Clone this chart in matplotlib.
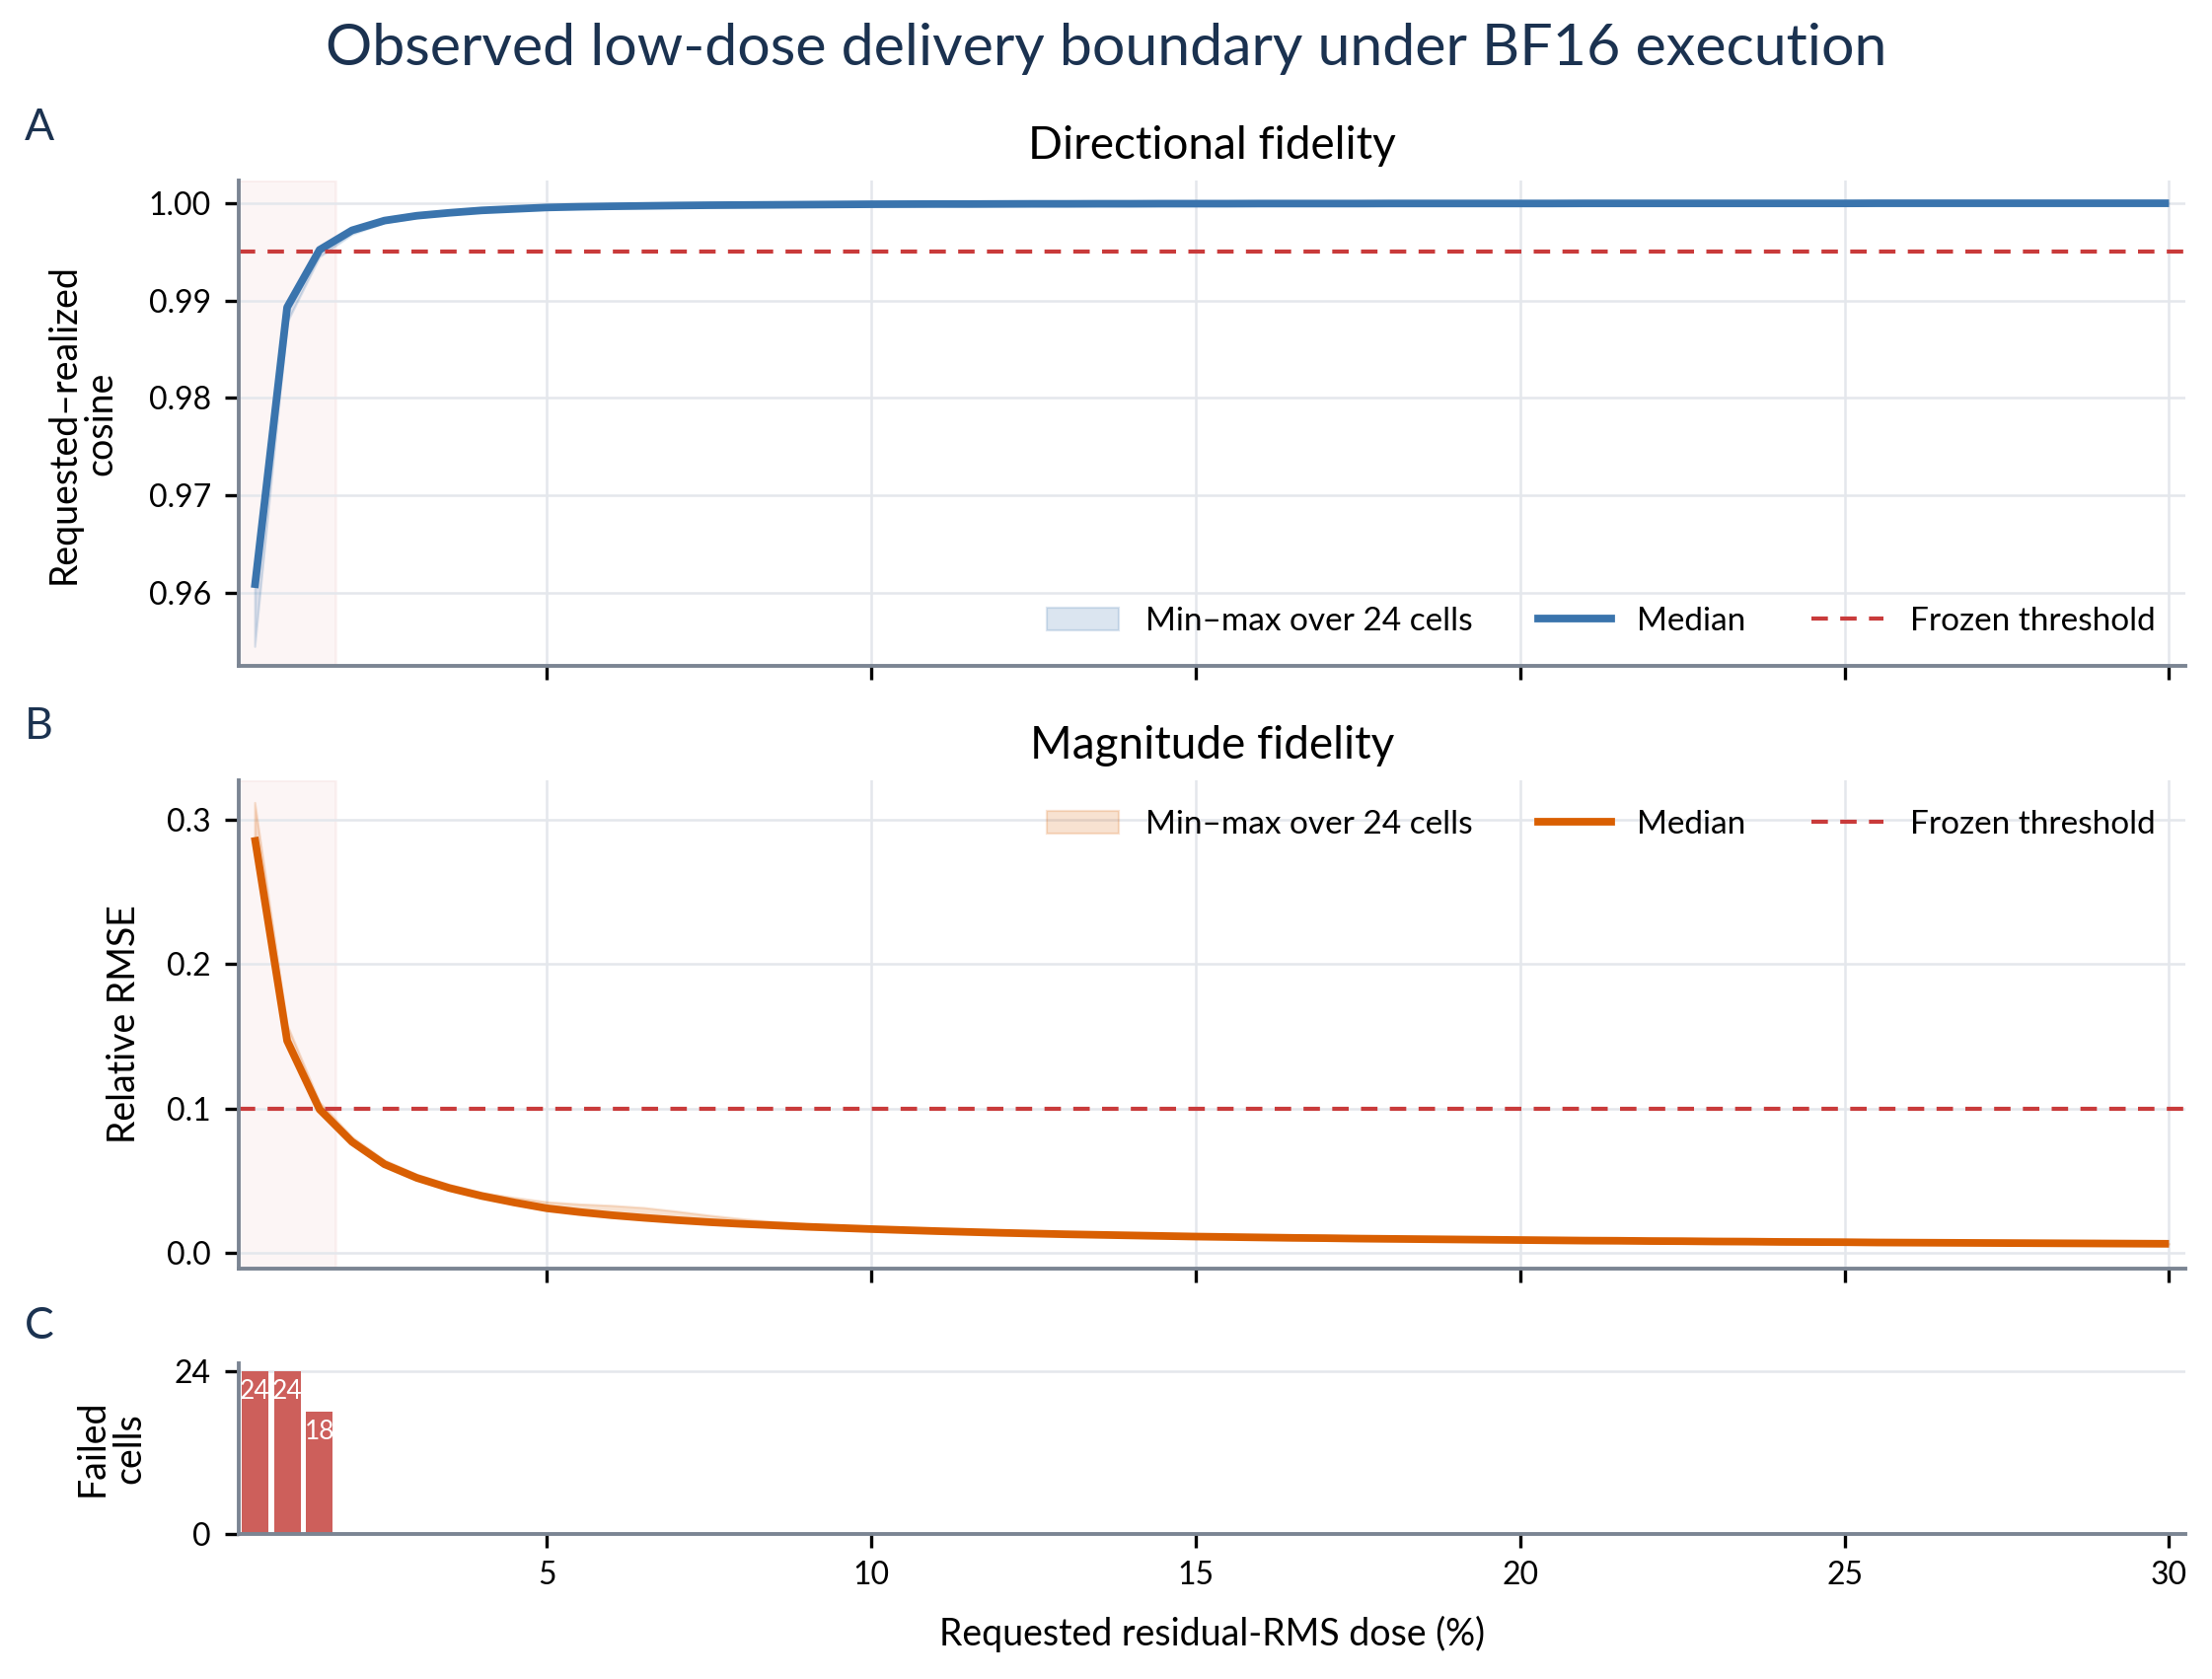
import matplotlib
matplotlib.use("Agg")
import matplotlib.pyplot as plt
from matplotlib.patches import Patch
from matplotlib.lines import Line2D

plt.rcParams['font.family'] = ['Lato', 'DejaVu Sans']

# ---------------- data ----------------
dose = [0.5, 1.0, 1.5, 2.0, 2.5, 3.0, 3.5, 4.0, 4.5, 5.0,
        5.5, 6.0, 6.5, 7.0, 7.5, 8.0, 8.5, 9.0, 9.5, 10.0,
        10.5, 11.0, 11.5, 12.0, 12.5, 13.0, 13.5, 14.0, 14.5, 15.0,
        15.5, 16.0, 16.5, 17.0, 17.5, 18.0, 18.5, 19.0, 19.5, 20.0,
        20.5, 21.0, 21.5, 22.0, 22.5, 23.0, 23.5, 24.0, 24.5, 25.0,
        25.5, 26.0, 26.5, 27.0, 27.5, 28.0, 28.5, 29.0, 29.5, 30.0]

cos_median = [0.9605, 0.9893, 0.9952, 0.9972, 0.9982, 0.9987, 0.9990, 0.99925, 0.9994, 0.99955,
              0.99962, 0.99967, 0.99971, 0.99975, 0.99978, 0.99980, 0.99982, 0.99984, 0.99986, 0.99988,
              0.99989, 0.99990, 0.99990, 0.99991, 0.99992, 0.99992, 0.99993, 0.99993, 0.99994, 0.99994,
              0.99994, 0.99995, 0.99995, 0.99995, 0.99995, 0.99996, 0.99996, 0.99996, 0.99996, 0.99996,
              0.99996, 0.99997, 0.99997, 0.99997, 0.99997, 0.99997, 0.99997, 0.99997, 0.99997, 0.99997,
              0.99998, 0.99998, 0.99998, 0.99998, 0.99998, 0.99998, 0.99998, 0.99998, 0.99998, 0.99998]
cos_min = [0.9545, 0.9878, 0.9945, 0.9968, 0.9980, 0.9985, 0.9989, 0.99915, 0.99932, 0.99945,
           0.99953, 0.99959, 0.99965, 0.99970, 0.99974, 0.99977, 0.99980, 0.99982, 0.99984, 0.99986,
           0.99987, 0.99988, 0.99989, 0.99990, 0.99991, 0.99991, 0.99992, 0.99992, 0.99993, 0.99993,
           0.99993, 0.99994, 0.99994, 0.99994, 0.99995, 0.99995, 0.99995, 0.99995, 0.99995, 0.99996,
           0.99996, 0.99996, 0.99996, 0.99996, 0.99996, 0.99996, 0.99997, 0.99997, 0.99997, 0.99997,
           0.99997, 0.99997, 0.99997, 0.99997, 0.99997, 0.99997, 0.99998, 0.99998, 0.99998, 0.99998]
cos_max = [0.9625, 0.9898, 0.9955, 0.9974, 0.9983, 0.9988, 0.9991, 0.99932, 0.99946, 0.99957,
           0.99964, 0.99969, 0.99973, 0.99977, 0.99980, 0.99982, 0.99984, 0.99986, 0.99987, 0.99989,
           0.99990, 0.99991, 0.99991, 0.99992, 0.99993, 0.99993, 0.99994, 0.99994, 0.99995, 0.99995,
           0.99995, 0.99996, 0.99996, 0.99996, 0.99996, 0.99997, 0.99997, 0.99997, 0.99997, 0.99997,
           0.99997, 0.99998, 0.99998, 0.99998, 0.99998, 0.99998, 0.99998, 0.99998, 0.99998, 0.99998,
           0.99998, 0.99998, 0.99998, 0.99999, 0.99999, 0.99999, 0.99999, 0.99999, 0.99999, 0.99999]

rmse_median = [0.288, 0.147, 0.0995, 0.0770, 0.0615, 0.0520, 0.0450, 0.0395, 0.0350, 0.0310,
               0.0284, 0.0262, 0.0244, 0.0228, 0.0214, 0.0202, 0.0192, 0.0182, 0.0174, 0.0166,
               0.0159, 0.0152, 0.0146, 0.0140, 0.0135, 0.0130, 0.0126, 0.0122, 0.0118, 0.0114,
               0.0111, 0.0108, 0.0105, 0.0103, 0.0100, 0.0098, 0.0096, 0.0094, 0.0092, 0.0090,
               0.0088, 0.0086, 0.0085, 0.0083, 0.0082, 0.0080, 0.0079, 0.0077, 0.0076, 0.0075,
               0.0073, 0.0072, 0.0071, 0.0070, 0.0069, 0.0068, 0.0067, 0.0066, 0.0065, 0.0064]
rmse_min = [0.284, 0.145, 0.0980, 0.0755, 0.0605, 0.0510, 0.0442, 0.0388, 0.0344, 0.0305,
            0.0280, 0.0258, 0.0240, 0.0225, 0.0211, 0.0199, 0.0189, 0.0180, 0.0172, 0.0164,
            0.0157, 0.0150, 0.0144, 0.0139, 0.0134, 0.0129, 0.0125, 0.0121, 0.0117, 0.0113,
            0.0110, 0.0107, 0.0104, 0.0102, 0.0099, 0.0097, 0.0095, 0.0093, 0.0091, 0.0089,
            0.0087, 0.0085, 0.0084, 0.0082, 0.0081, 0.0079, 0.0078, 0.0076, 0.0075, 0.0074,
            0.0072, 0.0071, 0.0070, 0.0069, 0.0068, 0.0067, 0.0066, 0.0065, 0.0064, 0.0063]
rmse_max = [0.312, 0.158, 0.1045, 0.0805, 0.0645, 0.0545, 0.0475, 0.0420, 0.0385, 0.0355,
            0.0340, 0.0330, 0.0315, 0.0290, 0.0262, 0.0238, 0.0218, 0.0202, 0.0190, 0.0178,
            0.0168, 0.0160, 0.0153, 0.0147, 0.0141, 0.0135, 0.0131, 0.0127, 0.0123, 0.0119,
            0.0115, 0.0112, 0.0109, 0.0107, 0.0104, 0.0101, 0.0099, 0.0097, 0.0095, 0.0093,
            0.0091, 0.0089, 0.0088, 0.0086, 0.0084, 0.0083, 0.0081, 0.0080, 0.0079, 0.0077,
            0.0076, 0.0075, 0.0073, 0.0072, 0.0071, 0.0070, 0.0069, 0.0068, 0.0067, 0.0066]

failed_dose = [0.5, 1.0, 1.5]
failed_cells = [24, 24, 18]

cos_threshold = 0.995
rmse_threshold = 0.10
fail_span = (0.25, 1.75)

# ---------------- style ----------------
BLUE = '#3a74ad'
ORANGE = '#d95f02'
RED = '#c93b3b'
BAR = '#cd5f5b'
SPINE = '#7b8593'
GRID = '#e4e7ec'
NAVY = '#1b3250'

TICK_FS = 11.5
LABEL_FS = 13.5
LEG_FS = 12
MED_LW = 2.8
DASH = (0, (4, 3))

fig = plt.figure(figsize=(11.21, 8.51), dpi=200)
L, R = 0.1078, 0.9879
axA = fig.add_axes([L, 0.6034, R - L, 0.8924 - 0.6034])
axB = fig.add_axes([L, 0.2445, R - L, 0.5353 - 0.2445], sharex=axA)
axC = fig.add_axes([L, 0.0866, R - L, 0.1882 - 0.0866], sharex=axA)

for ax in (axA, axB, axC):
    for s in ('top', 'right'):
        ax.spines[s].set_visible(False)
    for s in ('left', 'bottom'):
        ax.spines[s].set_color(SPINE)
        ax.spines[s].set_linewidth(1.4)
    ax.tick_params(axis='both', colors='black', labelcolor='black', labelsize=TICK_FS,
                   length=5, width=1.2, direction='out', pad=5)
    ax.set_axisbelow(True)

for ax in (axA, axB):
    ax.axvspan(*fail_span, color=RED, alpha=0.05, lw=1, zorder=0)
    ax.grid(True, color=GRID, lw=0.9)
    ax.tick_params(axis='x', labelbottom=False)
axC.grid(True, axis='y', color=GRID, lw=0.9)

labels = ['Min–max over 24 cells', 'Median', 'Frozen threshold']
leg_kw = dict(ncol=3, frameon=False, fontsize=LEG_FS, handlelength=2.2,
              columnspacing=2.0, handletextpad=0.8, borderaxespad=0.5)

# Panel A
axA.fill_between(dose, cos_min, cos_max, color=BLUE, alpha=0.18, lw=0.8)
axA.plot(dose, cos_median, color=BLUE, lw=MED_LW, solid_capstyle='butt')
axA.axhline(cos_threshold, color=RED, lw=1.5, ls=DASH)
axA.set_ylim(0.9525, 1.0023)
axA.set_yticks([0.96, 0.97, 0.98, 0.99, 1.00])
axA.set_yticklabels(['0.96', '0.97', '0.98', '0.99', '1.00'])
axA.set_ylabel('Requested–realized\ncosine', fontsize=LABEL_FS, labelpad=11, linespacing=1.05)
axA.set_title('Directional fidelity', fontsize=16.5, pad=8)
handlesA = [Patch(facecolor=BLUE, alpha=0.18, edgecolor=BLUE, lw=0.8),
            Line2D([], [], color=BLUE, lw=MED_LW),
            Line2D([], [], color=RED, lw=1.5, ls=DASH)]
axA.legend(handlesA, labels, loc='lower right', **leg_kw)

# Panel B
axB.fill_between(dose, rmse_min, rmse_max, color=ORANGE, alpha=0.18, lw=0.8)
axB.plot(dose, rmse_median, color=ORANGE, lw=MED_LW, solid_capstyle='butt')
axB.axhline(rmse_threshold, color=RED, lw=1.5, ls=DASH)
axB.set_ylim(-0.0107, 0.3274)
axB.set_yticks([0.0, 0.1, 0.2, 0.3])
axB.set_yticklabels(['0.0', '0.1', '0.2', '0.3'])
axB.set_ylabel('Relative RMSE', fontsize=LABEL_FS, labelpad=9)
axB.set_title('Magnitude fidelity', fontsize=16.5, pad=8)
handlesB = [Patch(facecolor=ORANGE, alpha=0.18, edgecolor=ORANGE, lw=0.8),
            Line2D([], [], color=ORANGE, lw=MED_LW),
            Line2D([], [], color=RED, lw=1.5, ls=DASH)]
axB.legend(handlesB, labels, loc='upper right', **leg_kw)

# Panel C
bars = axC.bar(failed_dose, failed_cells, width=0.41, color=BAR, zorder=2)
for b, v in zip(bars, failed_cells):
    axC.annotate(str(v), (b.get_x() + b.get_width() / 2, v), xytext=(0, -3),
                 textcoords='offset points', ha='center', va='top', color='white', fontsize=9.5)
axC.set_ylim(0, 25.2)
axC.set_yticks([0, 24])
axC.set_ylabel('Failed\ncells', fontsize=LABEL_FS, labelpad=10, linespacing=1.05)
axC.set_xlim(0.25, 30.25)
axC.set_xticks([5, 10, 15, 20, 25, 30])
axC.set_xlabel('Requested residual-RMS dose (%)', fontsize=LABEL_FS, labelpad=9)

fig.text(0.5, 0.971, 'Observed low-dose delivery boundary under BF16 execution',
         ha='center', va='center', fontsize=21.3, color=NAVY)
for letter, y in (('A', 0.924), ('B', 0.567), ('C', 0.21)):
    fig.text(0.011, y, letter, ha='left', va='center', fontsize=16, color=NAVY)

fig.savefig('out.png', dpi=200)
